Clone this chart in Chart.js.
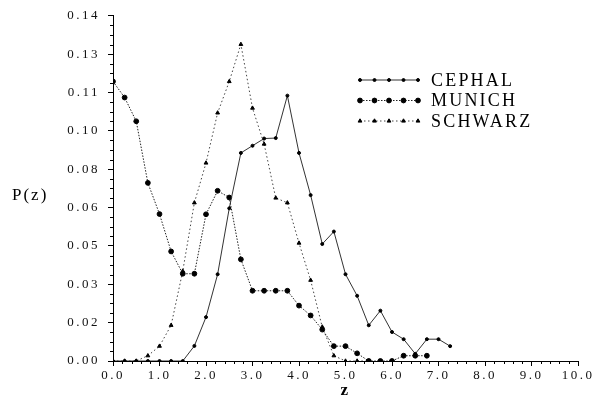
<!DOCTYPE html>
<html><head><meta charset="utf-8">
<script src="https://cdn.jsdelivr.net/npm/chart.js@4/dist/chart.umd.min.js"></script>
<style>html,body{margin:0;padding:0;background:#fff}#wrap{width:600px;height:402px}</style>
</head><body><div id="wrap"><canvas id="c" width="600" height="402"></canvas></div>
<script>
const seriesNames = ["CEPHAL", "MUNICH", "SCHWARZ"];

const cephalZ = [0,0.25,0.5,0.75,1,1.25,1.5,1.75,2,2.25,2.5,2.75,3,3.25,3.5,3.75,4,4.25,4.5,4.75,5,5.25,5.5,5.75,6,6.25,6.5,6.75,7,7.25];
const cephalP = [0,0,0,0,0,0,0,0.0063,0.0183,0.0362,0.0637,0.0868,0.0898,0.0928,0.0930,0.1107,0.0868,0.0692,0.0488,0.0540,0.0362,0.0272,0.0149,0.0210,0.0121,0.0091,0.0030,0.0091,0.0091,0.0062];

const munichZ = [0,0.25,0.5,0.75,1,1.25,1.5,1.75,2,2.25,2.5,2.75,3,3.25,3.5,3.75,4,4.25,4.5,4.75,5,5.25,5.5,5.75,6,6.25,6.5,6.75];
const munichP = [0.1166,0.1099,0.1000,0.0743,0.0613,0.0457,0.0364,0.0364,0.0612,0.0710,0.0682,0.0424,0.0293,0.0293,0.0293,0.0293,0.0231,0.0190,0.0131,0.0062,0.0062,0.0032,0,0,0,0.0022,0.0022,0.0022];

const schwarzZ = [0,0.25,0.5,0.75,1,1.25,1.5,1.75,2,2.25,2.5,2.75,3,3.25,3.5,3.75,4,4.25,4.5,4.75,5,5.25,5.5];
const schwarzP = [0,0,0,0.0022,0.0062,0.0149,0.0375,0.0660,0.0826,0.1035,0.1166,0.1321,0.1055,0.0905,0.0680,0.0660,0.0492,0.0337,0.0142,0.0022,0,0,0];

const xTickValues = [0,1,2,3,4,5,6,7,8,9,10];
const xTickLabels = ["0.0","1.0","2.0","3.0","4.0","5.0","6.0","7.0","8.0","9.0","10.0"];
const yTickValues = [0,0.016,0.032,0.048,0.064,0.080,0.096,0.112,0.128,0.144];
const yTickLabels = ["0.00","0.02","0.03","0.05","0.06","0.08","0.10","0.11","0.13","0.14"];

const toPts = (zs, ps) => zs.map((z, i) => ({x: z, y: ps[i]}));

const spacingPlugin = {
  id: 'spacing',
  beforeDraw(chart) { chart.ctx.letterSpacing = '2.5px'; },
  afterDraw(chart) { chart.ctx.letterSpacing = '0px'; }
};

const minorTicks = {
  id: 'minorTicks',
  afterDraw(chart) {
    const ctx = chart.ctx, xs = chart.scales.x, ys = chart.scales.y;
    const area = chart.chartArea;
    ctx.save();
    ctx.setLineDash([]);
    ctx.strokeStyle = '#000';
    ctx.lineWidth = 1;
    ctx.beginPath();
    for (let k = 0; k <= 50; k++) {
      if (k % 5 === 0) continue;
      const px = Math.round(xs.getPixelForValue(k * 0.2)) + 0.5;
      ctx.moveTo(px, area.bottom);
      ctx.lineTo(px, area.bottom + 3);
    }
    for (let k = 0; k <= 36; k++) {
      if (k % 4 === 0) continue;
      const py = Math.round(ys.getPixelForValue(k * 0.004)) + 0.5;
      ctx.moveTo(area.left, py);
      ctx.lineTo(area.left - 3, py);
    }
    ctx.stroke();
    ctx.restore();
  }
};

const extraText = {
  id: 'extraText',
  afterDraw(chart) {
    const ctx = chart.ctx;
    ctx.save();
    ctx.letterSpacing = '2px';
    ctx.fillStyle = '#000';
    ctx.font = '17px "Liberation Serif"';
    ctx.textAlign = 'left';
    ctx.textBaseline = 'middle';
    ctx.fillText('P(z)', 12, 196);
    ctx.restore();
  }
};

const legendPlugin = {
  id: 'customLegend',
  afterDraw(chart) {
    const ctx = chart.ctx;
    const x0 = 360, x1 = 418, tx = 431;
    const ys = [80, 100.5, 121];
    chart.data.datasets.forEach((ds, i) => {
      const y = ys[i];
      ctx.save();
      ctx.strokeStyle = ds.borderColor;
      ctx.lineWidth = ds.borderWidth;
      ctx.setLineDash(ds.borderDash || []);
      ctx.beginPath();
      ctx.moveTo(x0, y); ctx.lineTo(x1, y);
      ctx.stroke();
      ctx.setLineDash([]);
      ctx.fillStyle = '#000';
      ctx.strokeStyle = '#000';
      ctx.lineWidth = 1;
      for (let k = 0; k < 5; k++) {
        const px = x0 + k * (x1 - x0) / 4;
        Chart.helpers.drawPoint(ctx, {pointStyle: ds.pointStyle, radius: ds.pointRadius, rotation: 0, borderWidth: 1}, px, y);
      }
      ctx.letterSpacing = '2.2px';
      ctx.fillStyle = '#000';
      ctx.font = '18px "Liberation Serif"';
      ctx.textAlign = 'left';
      ctx.textBaseline = 'middle';
      ctx.fillText(ds.label, tx, y + 1);
      ctx.restore();
    });
  }
};

const tickFont = {family: '"Liberation Serif"', size: 13};

new Chart(document.getElementById('c'), {
  type: 'line',
  data: {
    datasets: [
      {label: seriesNames[0], data: toPts(cephalZ, cephalP), borderColor: '#333', borderWidth: 1,
       pointStyle: 'circle', pointRadius: 1.5, pointBackgroundColor: '#000', pointBorderColor: '#000', pointBorderWidth: 1, tension: 0},
      {label: seriesNames[1], data: toPts(munichZ, munichP), borderColor: '#222', borderWidth: 1, borderDash: [1.5, 1.5],
       pointStyle: 'circle', pointRadius: 2.4, pointBackgroundColor: '#000', pointBorderColor: '#000', pointBorderWidth: 1, tension: 0},
      {label: seriesNames[2], data: toPts(schwarzZ, schwarzP), borderColor: '#444', borderWidth: 1, borderDash: [1.5, 2.5],
       pointStyle: 'triangle', pointRadius: 2.2, pointBackgroundColor: '#000', pointBorderColor: '#000', pointBorderWidth: 1, tension: 0}
    ]
  },
  options: {
    responsive: false,
    animation: false,
    devicePixelRatio: 1,
    layout: {padding: {left: 0, right: 22, top: 12, bottom: 0}},
    plugins: {legend: {display: false}, tooltip: {enabled: false}},
    scales: {
      x: {
        type: 'linear', min: 0, max: 10,
        afterBuildTicks: s => { s.ticks = xTickValues.map(v => ({value: v})); },
        afterFit: s => { s.height = 41; },
        ticks: {callback: (v, i) => xTickLabels[i], font: tickFont, color: '#111', padding: 2, maxRotation: 0, autoSkip: false},
        grid: {drawOnChartArea: false, drawTicks: true, tickLength: 5, color: '#000', lineWidth: 1},
        border: {display: true, color: '#000', width: 1},
        title: {display: true, text: 'z', font: {family: '"Liberation Serif"', size: 17, weight: 'bold'}, color: '#000', padding: {top: 0, bottom: 1}}
      },
      y: {
        type: 'linear', min: 0, max: 0.144,
        afterBuildTicks: s => { s.ticks = yTickValues.map(v => ({value: v})); },
        afterFit: s => { s.width = 113; },
        ticks: {callback: (v, i) => yTickLabels[i], font: tickFont, color: '#111', padding: 8, autoSkip: false},
        grid: {drawOnChartArea: false, drawTicks: true, tickLength: 5, color: '#000', lineWidth: 1},
        border: {display: true, color: '#000', width: 1}
      }
    }
  },
  plugins: [spacingPlugin, minorTicks, extraText, legendPlugin]
});
</script>
</body></html>
